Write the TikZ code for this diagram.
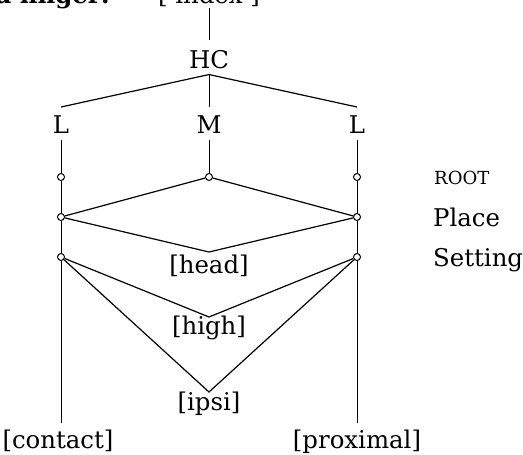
\documentclass[tikz,border=0pt]{standalone}
\usepackage{fontspec}
\setmainfont{DejaVu Serif}
\begin{document}
\begin{tikzpicture}[x=1pt,y=-1pt,
  txt/.style={font=\fontsize{24.4}{29}\selectfont, inner sep=0pt, anchor=base},
  lbl/.style={txt, anchor=base west},
  small/.style={inner sep=0pt, anchor=base west, font=\fontsize{18}{21}\selectfont},
  dot/.style={circle, draw, fill=white, inner sep=0pt, minimum size=7pt, line width=1pt},
  ln/.style={line width=1.2pt},
  thin/.style={line width=0.9pt}]
\useasboundingbox (0,0) rectangle (523,455);
\clip (0,0) rectangle (523,455);
% top texts (cut off by the upper edge, as in the reference)
\node[txt, anchor=base east, font=\fontsize{24.4}{29}\selectfont\bfseries] (sel) at (110,3) {Selected finger:};
\node[txt] (idx) at (209,3) {[ index ]};
\node[txt] (hc) at (209,68) {HC};
\node[txt] (l1) at (61,133) {L};
\node[txt] (m) at (209,133) {M};
\node[txt] (l2) at (357,133) {L};
% dots
\node[dot] (rl) at (61,177) {};
\node[dot] (rm) at (209,177) {};
\node[dot] (rr) at (357,177) {};
\node[dot] (pl) at (61,217) {};
\node[dot] (pr) at (357,217) {};
\node[dot] (sl) at (61,257) {};
\node[dot] (sr) at (357,257) {};
\coordinate (headv) at (209,252);
\coordinate (highv) at (209,317);
\coordinate (ipsiv) at (209,392);
% feature labels
\node[txt] (head) at (209,273) {[head]};
\node[txt] (high) at (209,334) {[high]};
\node[txt] (ipsi) at (209,410) {[ipsi]};
\node[txt] (contact) at (58,448) {[contact]};
\node[txt] (prox) at (357,448) {[proximal]};
% right labels
\node[small] (root) at (434,184) {ROOT};
\node[lbl] (place) at (433,226) {Place};
\node[lbl] (setting) at (433,266) {Setting};
% connectors
\draw[thin] ([yshift=-2pt]idx.south) -- ([yshift=10pt]hc.north);
\draw[ln] ([yshift=-6pt]hc.south) -- ([yshift=8pt]l1.north);
\draw[ln] ([yshift=-6pt]hc.south) -- ([yshift=8pt]l2.north);
\draw[thin] ([yshift=-6pt]hc.south) -- ([yshift=8pt]m.north);
\draw[thin] ([yshift=-7pt]l1.south) -- (rl) -- (pl) -- (sl) -- ([yshift=6pt]contact.north -| sl);
\draw[thin] ([yshift=-7pt]l2.south) -- (rr) -- (pr) -- (sr) -- ([yshift=6pt]prox.north -| sr);
\draw[thin] ([yshift=-7pt]m.south) -- (rm);
\draw[ln] (rm) -- (pl);
\draw[ln] (rm) -- (pr);
\draw[ln] (pl) -- (headv) -- (pr);
\draw[ln] (sl) -- (highv) -- (sr);
\draw[ln] (sl) -- (ipsiv) -- (sr);
\end{tikzpicture}
\end{document}
